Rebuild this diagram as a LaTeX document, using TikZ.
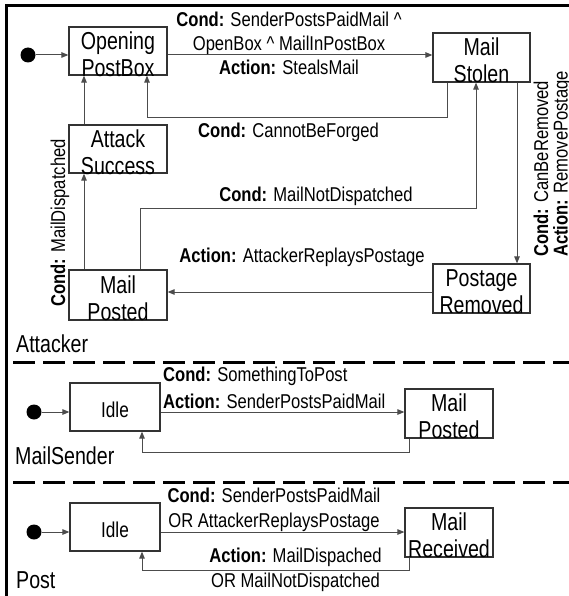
\documentclass[tikz,border=0pt]{standalone}
\usepackage{fontspec}
\setmainfont{Liberation Sans}[FakeStretch=0.83]
\newfontfamily\boxfont{Liberation Sans}[FakeStretch=0.8]
\usetikzlibrary{positioning, arrows.meta}
% lower a line of box text without changing its size
\newcommand{\lowr}[1]{\raisebox{-3pt}[\height][\depth]{#1}}

\begin{document}
\begin{tikzpicture}[x=1pt,y=-1pt,node distance=98pt]
\tikzstyle{every node}=[inner sep=0pt]
\tikzstyle{statebox}=[draw=black!80, line width=1.2pt, align=center, font=\boxfont\fontsize{24.5}{27}\selectfont]
\tikzstyle{idlebox}=[statebox, minimum width=90pt, minimum height=48pt, font=\boxfont\fontsize{21.5}{27}\selectfont]
\tikzstyle{lbl}=[font=\fontsize{20}{25}\selectfont]
\tikzstyle{conn}=[draw=black!70, line width=1pt, -{Triangle[length=7pt,width=5.5pt]}]
\tikzstyle{dot}=[circle, fill=black, minimum size=15pt]
\tikzstyle{lane}=[line width=3.5pt, dash pattern=on 22pt off 8pt, dash phase=22.7pt]
\tikzstyle{title}=[anchor=base west, font=\boxfont\fontsize{24.5}{27}\selectfont]

\useasboundingbox (0,0) rectangle (568,596);
\draw[line width=3pt] (6,620) -- (6,5.5) -- (620,5.5);
\draw[lane] (6,362.5) -- (580,362.5);
\draw[lane] (6,482.5) -- (580,482.5);

% Attacker
\node[dot] (d1) at (28,55) {};
\node[statebox, minimum width=98pt, minimum height=48pt] (opn) at (118,51) {\lowr{Opening}\\\lowr{PostBox}};
\node[statebox, minimum width=97pt, minimum height=49pt] (stolen) at (481.5,57.5) {\lowr{Mail}\\\lowr{Stolen}};
\node[statebox, minimum width=98pt, minimum height=48pt, below of=opn] (attack) {\lowr{Attack}\\\lowr{Success}};
\node[statebox, minimum width=98pt, minimum height=50pt, below of=attack, node distance=146pt] (posted) {\lowr{Mail}\\\lowr{Posted}};
\node[statebox, minimum width=97pt, minimum height=49pt, below of=stolen, node distance=231pt] (removed) {\lowr{Postage}\\\lowr{Removed}};
\node[title] (t1) at (16,352) {Attacker};

\coordinate (k1) at (447,118);
\coordinate (k2) at (147,118);
\coordinate (k3) at (140,208);
\coordinate (k4) at (476,208);
\coordinate (y1) at (0,292);

\draw[conn] (d1) -- (d1 -| opn.west);
\draw[conn] (d1 -| opn.east) -- (d1 -| stolen.west);
\draw[conn] (stolen.south -| k1) -- (k1) -- (k2) -- (opn.south -| k2);
\draw[conn] ([xshift=-34pt]attack.north) -- ([xshift=-34pt]opn.south);
\draw[conn] ([xshift=-34pt]posted.north) -- ([xshift=-34pt]attack.south);
\draw[conn] (posted.north -| k3) -- (k3) -- (k4) -- (stolen.south -| k4);
\draw[conn] ([xshift=35.5pt]stolen.south) -- ([xshift=35.5pt]removed.north);
\draw[conn] (removed.west |- y1) -- (posted.east |- y1);

\node[lbl, align=center, anchor=north, font=\fontsize{20}{24}\selectfont] (c1) at (289,12.2)
  {\textbf{Cond:} SenderPostsPaidMail \textasciicircum\\OpenBox \textasciicircum{} MailInPostBox\\\textbf{Action:} StealsMail};
\node[lbl, anchor=base] (c2) at (288.5,138) {\textbf{Cond:} CannotBeForged};
\node[lbl, anchor=base] (c3) at (316,201) {\textbf{Cond:} MailNotDispatched};
\node[lbl, anchor=base] (c4) at (302,262) {\textbf{Action:} AttackerReplaysPostage};
\node[lbl, rotate=90, anchor=base] (c5) at (65,223) {\textbf{Cond:} MailDispatched};
\node[lbl, rotate=90, anchor=base west] (c6) at (548,257) {\textbf{Cond:} CanBeRemoved};
\node[lbl, rotate=90, anchor=base west] (c7) at (567.5,257) {\textbf{Action:} RemovePostage};

% MailSender
\node[dot] (d2) at (34,412) {};
\node[idlebox] (idleS) at (115,407) {\lowr{Idle}};
\node[statebox, minimum width=88pt, minimum height=49pt] (postedS) at (449,413.5) {\lowr{Mail}\\\lowr{Posted}};
\node[title] (t2) at (15,464) {MailSender};

\coordinate (k5) at (409,452);
\coordinate (k6) at (142,452);

\draw[conn] (d2) -- (d2 -| idleS.west);
\draw[conn] (d2 -| idleS.east) -- (d2 -| postedS.west);
\draw[conn] (postedS.south -| k5) -- (k5) -- (k6) -- (idleS.south -| k6);

\node[lbl, align=left, anchor=north west] (c8) at (163,366.5)
  {\textbf{Cond:} SomethingToPost\\[2pt]\textbf{Action:} SenderPostsPaidMail};

% Post
\node[dot] (d3) at (34,532) {};
\node[idlebox] (idleP) at (115,527) {\lowr{Idle}};
\node[statebox, minimum width=88pt, minimum height=49pt] (recv) at (449,532.5) {\lowr{Mail}\\\lowr{Received}};
\node[title] (t3) at (16,588) {Post};

\coordinate (k7) at (409,570);
\coordinate (k8) at (142,570);

\draw[conn] (d3) -- (d3 -| idleP.west);
\draw[conn] (d3 -| idleP.east) -- (d3 -| recv.west);
\draw[conn] (recv.south -| k7) -- (k7) -- (k8) -- (idleP.south -| k8);

\node[lbl, align=center, anchor=north] (c9) at (274,487.5)
  {\textbf{Cond:} SenderPostsPaidMail\\OR AttackerReplaysPostage};
\node[lbl, align=center, anchor=north] (c10) at (295.5,547.5)
  {\textbf{Action:} MailDispached\\OR MailNotDispatched};
\end{tikzpicture}
\end{document}
